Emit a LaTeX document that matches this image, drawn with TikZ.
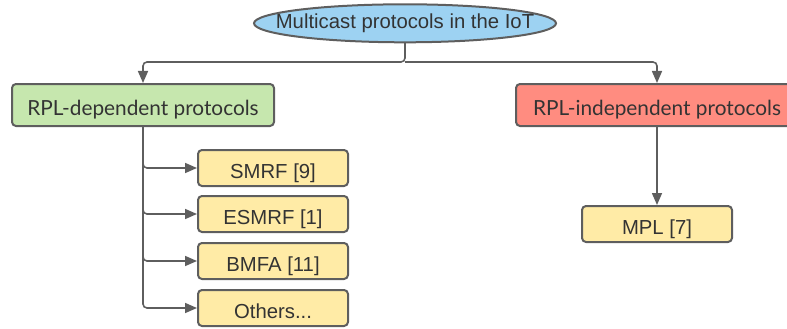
\documentclass[tikz,border=0pt]{standalone}
\usepackage{fontspec}
\setmainfont{Liberation Sans}
\newfontfamily\latofont{Lato}
\usetikzlibrary{arrows.meta}
\definecolor{edge}{HTML}{5E5E5E}
\definecolor{txt}{HTML}{333333}
\definecolor{bluef}{HTML}{9DD2F2}
\definecolor{greenf}{HTML}{C6E7AE}
\definecolor{redf}{HTML}{FF8C80}
\definecolor{yellowf}{HTML}{FFEBA6}
\tikzset{
  box/.style={draw=edge,line width=2pt,rounded corners=4pt,inner sep=0pt,text=txt},
  catbox/.style={box,minimum height=42pt,text height=21pt,text depth=0pt,font=\latofont\fontsize{20.8}{22}\selectfont},
  leafbox/.style={box,fill=yellowf,minimum width=150pt,minimum height=36pt,text height=20pt,text depth=0pt,font=\fontsize{20.3}{22}\selectfont},
  conn/.style={draw=edge,line width=1.6pt,rounded corners=4pt,-{Triangle[length=12pt,width=10pt]}},
}
\begin{document}
\begin{tikzpicture}[x=1pt,y=-1pt]
\useasboundingbox (0,0) rectangle (787,329);
\begin{scope}
\clip (0,0) rectangle (787,329);
\draw[draw=edge,line width=2pt,fill=bluef] (405,23.3) ellipse [x radius=151, y radius=19];
\node[inner sep=0pt,minimum width=302pt,minimum height=38pt,text height=10pt,text depth=0pt,text=txt,font=\fontsize{20.3}{22}\selectfont] (root) at (405,23.3) {Multicast protocols in the IoT};
\node[catbox,fill=greenf,minimum width=262pt] (dep) at (143,105) {RPL-dependent protocols};
\node[catbox,fill=redf,minimum width=282pt] (indep) at (657,105) {RPL-independent protocols};
\node[leafbox] (smrf) at (273,168) {SMRF [9]};
\node[leafbox] (esmrf) at (273,214) {ESMRF [1]};
\node[leafbox] (bmfa) at (273,261) {BMFA [11]};
\node[leafbox] (oth) at (273,308) {Others...};
\node[leafbox] (mpl) at (657,224) {MPL [7]};
\coordinate (j) at (405,62);
\draw[conn] (root.south) -- (j) -| (dep.north);
\draw[conn] (j) -| (indep.north);
\draw[conn] (dep.south) |- (smrf.west);
\draw[conn] (dep.south) |- (esmrf.west);
\draw[conn] (dep.south) |- (bmfa.west);
\draw[conn] (dep.south) |- (oth.west);
\draw[conn] (indep.south) -- (mpl.north);
\end{scope}
\end{tikzpicture}
\end{document}
